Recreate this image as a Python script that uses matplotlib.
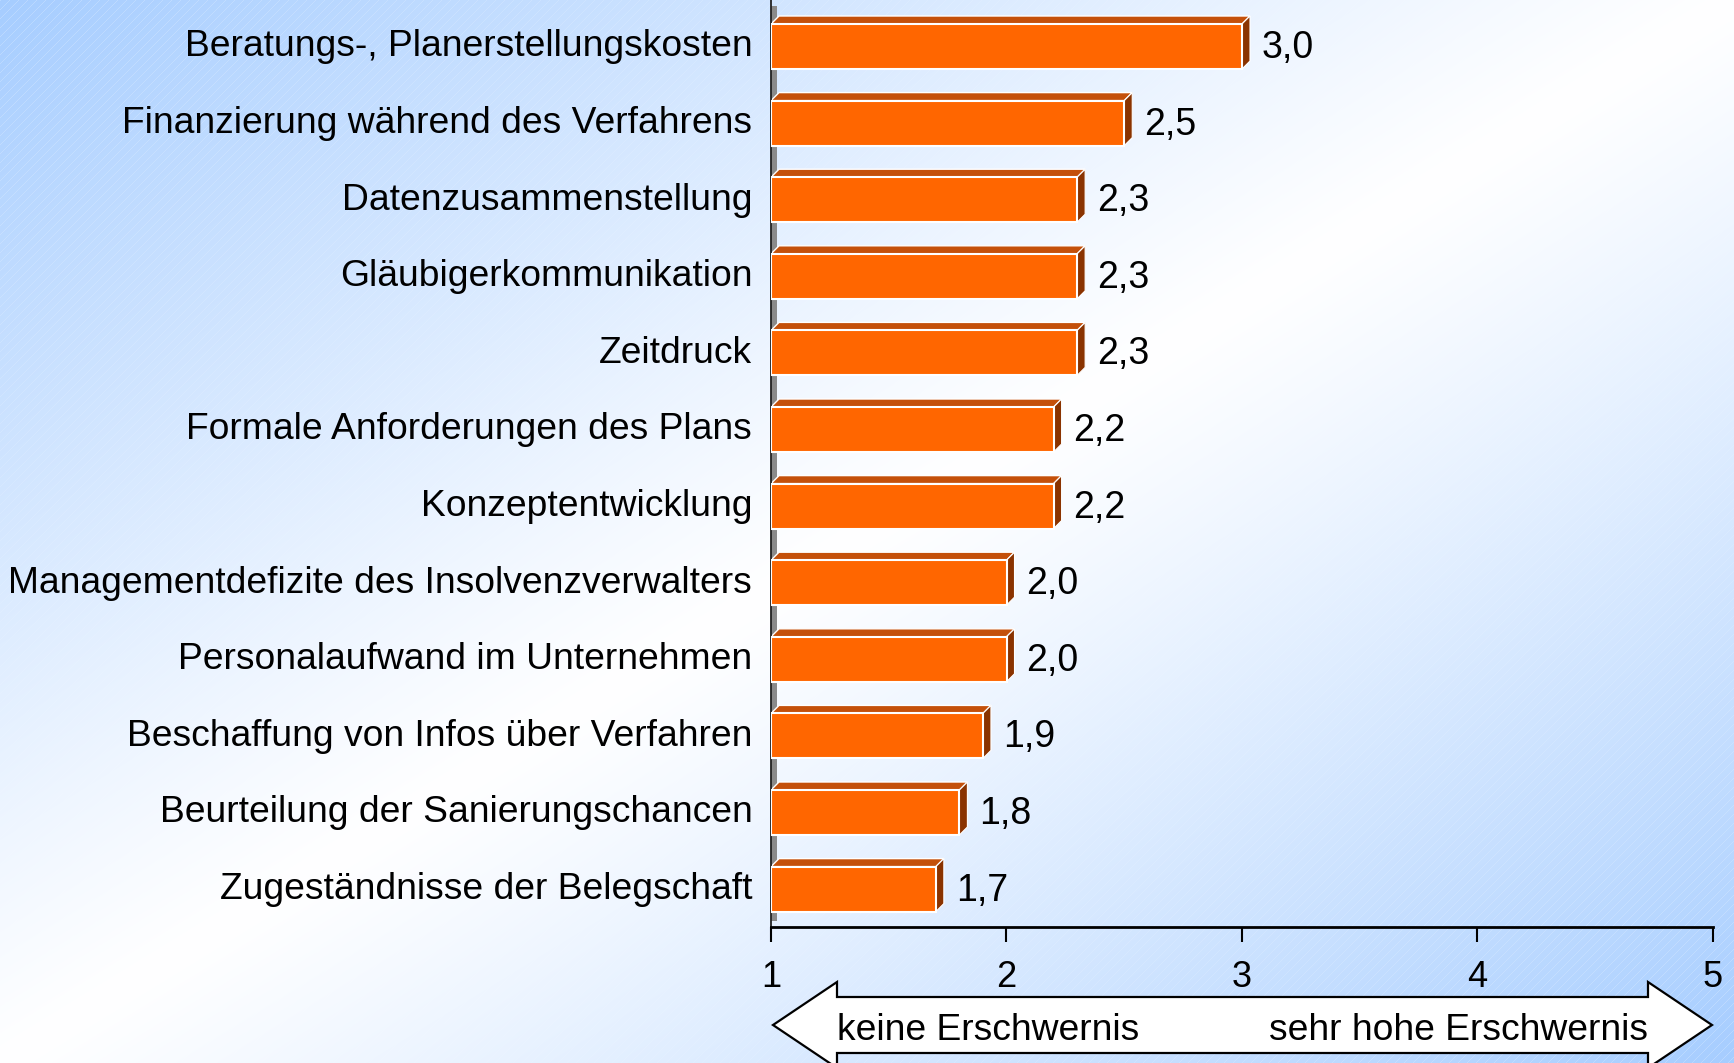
import numpy as np
import matplotlib
matplotlib.use("Agg")
import matplotlib.pyplot as plt
from matplotlib.patches import Polygon, Rectangle
from matplotlib.transforms import ScaledTranslation

plt.rcParams['font.family'] = ['Liberation Sans', 'DejaVu Sans']

categories = [
    "Beratungs-, Planerstellungskosten",
    "Finanzierung während des Verfahrens",
    "Datenzusammenstellung",
    "Gläubigerkommunikation",
    "Zeitdruck",
    "Formale Anforderungen des Plans",
    "Konzeptentwicklung",
    "Managementdefizite des Insolvenzverwalters",
    "Personalaufwand im Unternehmen",
    "Beschaffung von Infos über Verfahren",
    "Beurteilung der Sanierungschancen",
    "Zugeständnisse der Belegschaft",
]
values = [3.0, 2.5, 2.3, 2.3, 2.3, 2.2, 2.2, 2.0, 2.0, 1.9, 1.8, 1.7]
value_labels = ["3,0", "2,5", "2,3", "2,3", "2,3", "2,2", "2,2", "2,0", "2,0", "1,9", "1,8", "1,7"]
xticks = [1, 2, 3, 4, 5]
arrow_left_text = "keine Erschwernis"
arrow_right_text = "sehr hohe Erschwernis"

W, H = 1734, 1063
DPI = 100
fig = plt.figure(figsize=(W / DPI, H / DPI), dpi=DPI)

# ---- background gradient with faint diagonal hatching ----
yy, xx = np.mgrid[0:H, 0:W].astype(float)
t = (xx / W + yy / H) / 2.0
b = np.clip(np.abs(2 * t - 1), 0, 1) ** 1.1
blue = np.array([166, 205, 255]) / 255.0
white = np.array([1.0, 1.0, 1.0])
img = white[None, None, :] * (1 - b[..., None]) + blue[None, None, :] * b[..., None]
hatch = (((xx + yy) % 9) < 1.0).astype(float) * 0.22 * b
img = img * (1 - hatch[..., None]) + white[None, None, :] * hatch[..., None]
bg = fig.add_axes([0, 0, 1, 1], zorder=-10)
bg.imshow(img, aspect='auto', extent=[0, 1, 0, 1], interpolation='bilinear')
bg.axis('off')

# ---- main axes ----
ax_left_px, ax_right_px = 771, 1713
ax_bottom_px = 927
ax = fig.add_axes([ax_left_px / W, 1 - ax_bottom_px / H,
                   (ax_right_px - ax_left_px) / W, ax_bottom_px / H])
ax.set_facecolor('none')

n = len(categories)
ypos = np.arange(n)
row_px = 76.6
first_center_px = 46.5
ytop = -first_center_px / row_px
ybot = (n - 1) + (ax_bottom_px - (first_center_px + row_px * (n - 1))) / row_px
ax.set_xlim(1, 5)
ax.set_ylim(ybot, ytop)

px_per_x = (ax_right_px - ax_left_px) / 4.0
dx = 8 / px_per_x
dy = 8 / row_px
bar_h = 45 / row_px

# back wall strip
wall_w = 6 / px_per_x
ax.add_patch(Rectangle((1, ytop + 6 / row_px), wall_w, (ybot - 6 / row_px) - (ytop + 6 / row_px),
                       facecolor='#8a8a8a', edgecolor='none', zorder=1))

bars = ax.barh(ypos, [v - 1 for v in values], left=1, height=bar_h,
               color='#FF6600', edgecolor='white', linewidth=1.5, zorder=3)

for yi, v, lab in zip(ypos, values, value_labels):
    top = yi - bar_h / 2
    bottom = yi + bar_h / 2
    top_face = Polygon([(1, top), (v, top), (v + dx, top - dy), (1 + dx, top - dy)],
                       closed=True, facecolor='#C4500A', edgecolor='white', linewidth=1.0, zorder=2)
    side_face = Polygon([(v, top), (v + dx, top - dy), (v + dx, bottom - dy), (v, bottom)],
                        closed=True, facecolor='#8A3300', edgecolor='white', linewidth=0.8, zorder=2)
    ax.add_patch(top_face)
    ax.add_patch(side_face)
    ax.text(v + dx + 12 / px_per_x, yi - 2.5 / row_px, lab, ha='left', va='center_baseline',
            fontsize=27, color='black', zorder=5)

ax.set_yticks(ypos)
ax.set_yticklabels(categories, fontsize=26.8)
ax.tick_params(axis='y', length=0, pad=13.5)
shift_up = ScaledTranslation(0, 3.5 / DPI, fig.dpi_scale_trans)
for lbl in ax.get_yticklabels():
    lbl.set_transform(lbl.get_transform() + shift_up)

ax.set_xticks(xticks)
ax.set_xticklabels([str(x) for x in xticks], fontsize=26)
ax.tick_params(axis='x', direction='out', length=11, width=1.5, pad=12.5, color='black')

for s in ['top', 'right']:
    ax.spines[s].set_visible(False)
ax.spines['bottom'].set_linewidth(2)
ax.spines['bottom'].set_color('black')
ax.spines['left'].set_linewidth(1.3)
ax.spines['left'].set_color('#222222')

# ---- double-headed block arrow ----
pts_px = [(773, 1025), (837, 982), (837, 997), (1648, 997), (1648, 982), (1712, 1025),
          (1648, 1068), (1648, 1053), (837, 1053), (837, 1068)]
pts = [(x / W, 1 - y / H) for x, y in pts_px]
fig.patches.append(Polygon(pts, closed=True, facecolor='white', edgecolor='black',
                           linewidth=1.6, transform=fig.transFigure, zorder=5))
fig.text(837 / W, 1 - 1026 / H, arrow_left_text, ha='left', va='center_baseline', fontsize=26.8, zorder=6)
fig.text(1648 / W, 1 - 1026 / H, arrow_right_text, ha='right', va='center_baseline', fontsize=26.8, zorder=6)

fig.savefig('out.png', dpi=DPI)
